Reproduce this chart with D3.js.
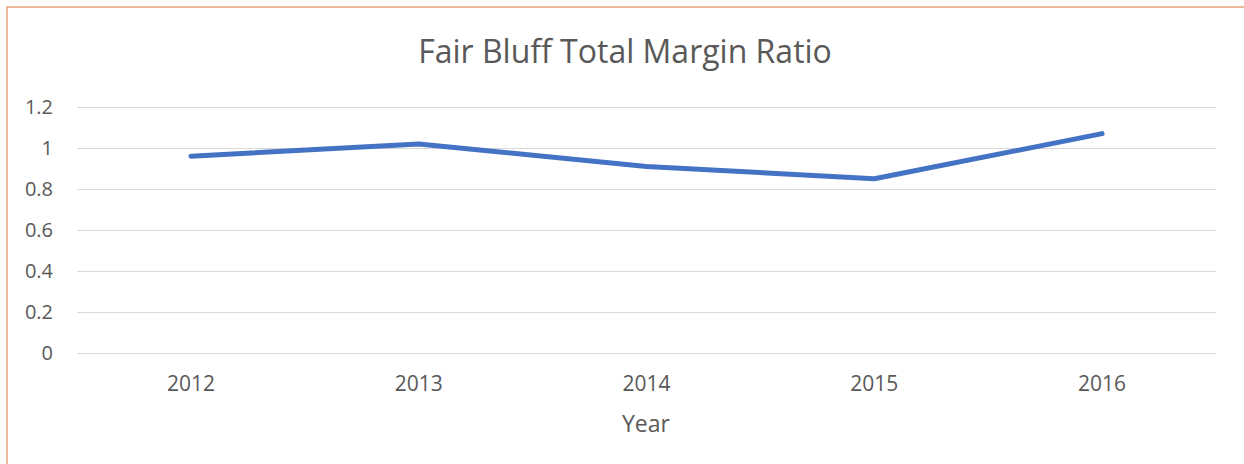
<!DOCTYPE html>
<html lang="en">
  <head>
    <meta charset="UTF-8" />
    <title>Fair Bluff Total Margin Ratio</title>
    <style>
      body { margin: 0; background: #fff; }
      text { font-family: 'Open Sans', 'Liberation Sans', sans-serif; fill: #595959; }
    </style>
  </head>
  <body>
    <svg id="Chart"></svg>
    <script src="https://d3js.org/d3.v7.min.js"></script>
    <script>
      // chart data
      const years = ['2012', '2013', '2014', '2015', '2016'];
      const ratios = [0.96, 1.02, 0.91, 0.85, 1.07];
      const yTicks = [0, 0.2, 0.4, 0.6, 0.8, 1, 1.2];

      function getConfig() {
        let width = 1244;
        let height = 464;
        let margin = { top: 107, bottom: 111, left: 77, right: 28 };
        let bodyWidth = width - margin.left - margin.right;
        let bodyHeight = height - margin.top - margin.bottom;
        let container = d3.select('#Chart').attr('width', width).attr('height', height);
        return { width, height, margin, bodyWidth, bodyHeight, container };
      }

      function getScales(config) {
        let { bodyWidth, bodyHeight } = config;
        let xScale = d3.scaleBand().domain(years).range([0, bodyWidth]);
        let yScale = d3.scaleLinear().domain([0, 1.2]).range([bodyHeight, 0]);
        return { xScale, yScale };
      }

      function drawFrame(config) {
        let { container, width, height } = config;
        // orange chart-area border (right/bottom edges fall outside the crop)
        container
          .append('rect')
          .attr('x', 7)
          .attr('y', 7)
          .attr('width', width + 10)
          .attr('height', height + 10)
          .attr('fill', 'none')
          .attr('stroke', '#e6a57e')
          .attr('stroke-width', 1.5);

        container
          .append('text')
          .attr('x', 625)
          .attr('y', 63)
          .attr('text-anchor', 'middle')
          .style('font-size', '32px')
          .text('Fair Bluff Total Margin Ratio');

        container
          .append('text')
          .attr('x', 646)
          .attr('y', 432)
          .attr('text-anchor', 'middle')
          .style('font-size', '23px')
          .text('Year');
      }

      function drawAxes(scales, config) {
        let { xScale, yScale } = scales;
        let { container, margin, bodyWidth, bodyHeight } = config;

        let axisY = d3
          .axisLeft(yScale)
          .tickValues(yTicks)
          .tickSize(-bodyWidth)
          .tickPadding(24)
          .tickFormat((d) => d3.format('~g')(d));

        let gy = container
          .append('g')
          .attr('transform', `translate(${margin.left},${margin.top})`)
          .call(axisY);
        gy.select('.domain').remove();
        gy.selectAll('.tick line').attr('stroke', '#d9d9d9').attr('stroke-width', 1.2);
        gy.selectAll('.tick text').style('font-size', '20px').attr('fill', '#595959');

        let axisX = d3.axisBottom(xScale).tickSize(0);
        let gx = container
          .append('g')
          .attr('transform', `translate(${margin.left},${margin.top + bodyHeight})`)
          .call(axisX);
        gx.select('.domain').remove();
        gx.selectAll('.tick text')
          .attr('y', 38)
          .attr('dy', 0)
          .style('font-size', '21px')
          .attr('fill', '#595959');
      }

      function drawLine(scales, config) {
        let { xScale, yScale } = scales;
        let { container, margin } = config;
        let line = d3
          .line()
          .x((d, i) => xScale(years[i]) + xScale.bandwidth() / 2)
          .y((d) => yScale(d));

        container
          .append('g')
          .attr('transform', `translate(${margin.left},${margin.top})`)
          .append('path')
          .datum(ratios)
          .attr('d', line)
          .attr('fill', 'none')
          .attr('stroke', '#4472c4')
          .attr('stroke-width', 5)
          .attr('stroke-linecap', 'round')
          .attr('stroke-linejoin', 'round');
      }

      let config = getConfig();
      let scales = getScales(config);
      drawFrame(config);
      drawAxes(scales, config);
      drawLine(scales, config);
    </script>
  </body>
</html>
